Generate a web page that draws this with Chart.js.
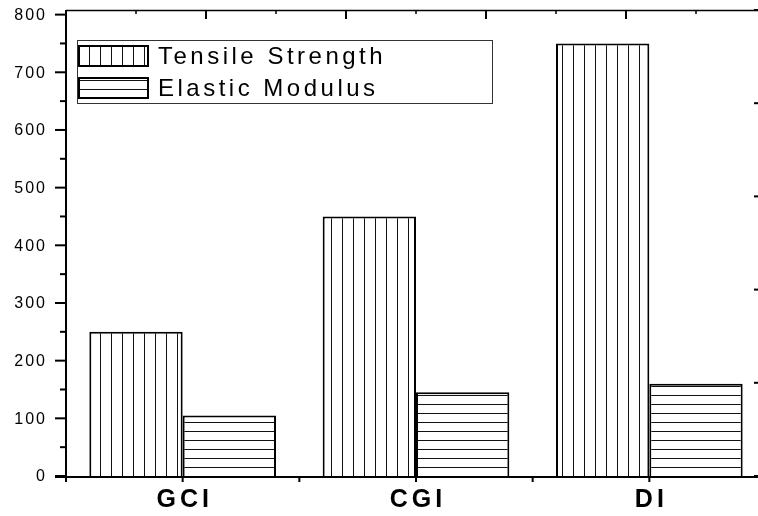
<!DOCTYPE html>
<html>
<head>
<meta charset="utf-8">
<title>Tensile Strength / Elastic Modulus</title>
<script src="https://cdn.jsdelivr.net/npm/chart.js@4.4.1/dist/chart.umd.min.js"></script>
<style>
html, body { margin: 0; padding: 0; background: #fff; overflow: hidden; }
#chart { display: block; }
</style>
</head>
<body>
<canvas id="chart" width="780" height="516" style="width:780px;height:516px"></canvas>
<script>
const categories = ['GCI', 'CGI', 'DI'];
const seriesLabels = ['Tensile Strength', 'Elastic Modulus'];
const tensileStrength = [250, 450, 750];
const elasticModulus = [105, 145, 160];
const yTickValues = [0, 100, 200, 300, 400, 500, 600, 700, 800];
const yMax = 808;

// hatch fill: vertical or horizontal thin lines on white
function makePattern(vertical) {
    const tile = document.createElement('canvas');
    tile.width = vertical ? 11 : 1;
    tile.height = vertical ? 1 : 9;
    const tctx = tile.getContext('2d');
    tctx.fillStyle = '#fff';
    tctx.fillRect(0, 0, tile.width, tile.height);
    tctx.fillStyle = '#111';
    tctx.fillRect(0, 0, 1, 1);
    const pattern = tctx.createPattern(tile, 'repeat');
    pattern.setTransform(vertical ? new DOMMatrix([1, 0, 0, 1, 1, 0]) : new DOMMatrix([1, 0, 0, 1, 0, 8]));
    return pattern;
}

const verticalHatch = makePattern(true);
const horizontalHatch = makePattern(false);

function line(ctx, x1, y1, x2, y2, w) {
    ctx.lineWidth = w;
    ctx.beginPath();
    ctx.moveTo(x1, y1);
    ctx.lineTo(x2, y2);
    ctx.stroke();
}

const framePlugin = {
    id: 'frame',
    afterDraw: function(chart) {
        const ctx = chart.ctx;
        const area = chart.chartArea;
        const x = chart.scales.x;
        const y = chart.scales.y;
        const xTop = chart.scales.xTop;
        const yRight = chart.scales.yRight;

        ctx.save();
        ctx.strokeStyle = '#000';
        ctx.fillStyle = '#000';

        // axis box
        line(ctx, area.left, area.top, area.left, area.bottom + 2, 2);
        line(ctx, area.left - 11, area.bottom + 1, chart.width, area.bottom + 1, 2);
        line(ctx, area.left, area.top + 0.5, chart.width, area.top + 0.5, 1.5);
        line(ctx, area.right, area.top, area.right, area.bottom, 2);

        // left ticks + labels
        ctx.font = '16px "Liberation Sans", Arial, sans-serif';
        ctx.letterSpacing = '2px';
        ctx.textAlign = 'right';
        ctx.textBaseline = 'middle';
        yTickValues.forEach(function(v, i) {
            const py = y.getPixelForValue(v);
            line(ctx, area.left - 11, py, area.left, py, 2);
            if (i < yTickValues.length - 1) {
                const pm = y.getPixelForValue((v + yTickValues[i + 1]) / 2);
                line(ctx, area.left - 6, pm, area.left, pm, 2);
            }
            ctx.fillText(String(v), 47, py + 1);
        });

        // bottom ticks at category centres and boundaries
        for (let i = 0; i <= categories.length * 2; i++) {
            const px = x.getPixelForValue(i / 2 - 0.5);
            line(ctx, px, area.bottom + 1, px, area.bottom + 6, 2);
        }

        ctx.font = 'bold 25px "Liberation Sans", Arial, sans-serif';
        ctx.letterSpacing = '4px';
        ctx.textAlign = 'center';
        ctx.textBaseline = 'alphabetic';
        categories.forEach(function(c, i) {
            ctx.fillText(c, x.getPixelForValue(i) + 2, 507);
        });

        // top ticks (inward)
        for (let i = xTop.min; i <= xTop.max; i++) {
            const px = xTop.getPixelForValue(i);
            const major = i % 2 === 0;
            line(ctx, px, area.top, px, area.top + (major ? 9 : 4), major ? 2 : 1.5);
        }

        // right ticks (inward)
        for (let i = yRight.min; i <= yRight.max; i++) {
            const py = yRight.getPixelForValue(i);
            line(ctx, area.right - 12, py, area.right, py, 2);
        }

        // legend
        ctx.letterSpacing = '0px';
        ctx.fillStyle = '#fff';
        ctx.fillRect(77, 40, 415, 63);
        ctx.strokeStyle = '#333';
        ctx.lineWidth = 1;
        ctx.strokeRect(77.5, 40.5, 415, 63);

        ctx.font = '24px "Liberation Sans", Arial, sans-serif';
        ctx.letterSpacing = '3.5px';
        ctx.textAlign = 'left';
        chart.data.datasets.forEach(function(ds, i) {
            const top = 45 + i * 32;
            ctx.fillStyle = ds.backgroundColor;
            ctx.fillRect(78, top, 71, 22);
            ctx.strokeStyle = '#000';
            ctx.lineWidth = 2;
            ctx.strokeRect(79, top + 1, 69, 20);
            ctx.fillStyle = '#000';
            ctx.fillText(ds.label, 158, 64 + i * 32);
        });

        ctx.restore();
    }
};

const ctx = document.getElementById('chart').getContext('2d');
const chart = new Chart(ctx, {
    type: 'bar',
    data: {
        labels: categories,
        datasets: [
            {
                label: seriesLabels[0],
                data: tensileStrength,
                backgroundColor: verticalHatch,
                borderColor: '#000',
                borderWidth: 2,
                barPercentage: 1,
                categoryPercentage: 0.8
            },
            {
                label: seriesLabels[1],
                data: elasticModulus,
                backgroundColor: horizontalHatch,
                borderColor: '#000',
                borderWidth: 2,
                barPercentage: 1,
                categoryPercentage: 0.8
            }
        ]
    },
    options: {
        responsive: false,
        devicePixelRatio: 1,
        animation: false,
        layout: {
            padding: { left: 66, top: 10, right: 14, bottom: 40 }
        },
        plugins: {
            legend: { display: false },
            tooltip: { enabled: false }
        },
        scales: {
            x: { display: false, offset: true },
            y: { display: false, min: 0, max: yMax },
            xTop: { axis: 'x', type: 'linear', position: 'top', display: false, offset: false, min: 0, max: 10 },
            yRight: { axis: 'y', type: 'linear', position: 'right', display: false, offset: false, min: 0, max: 5 }
        }
    },
    plugins: [framePlugin]
});
</script>
</body>
</html>
